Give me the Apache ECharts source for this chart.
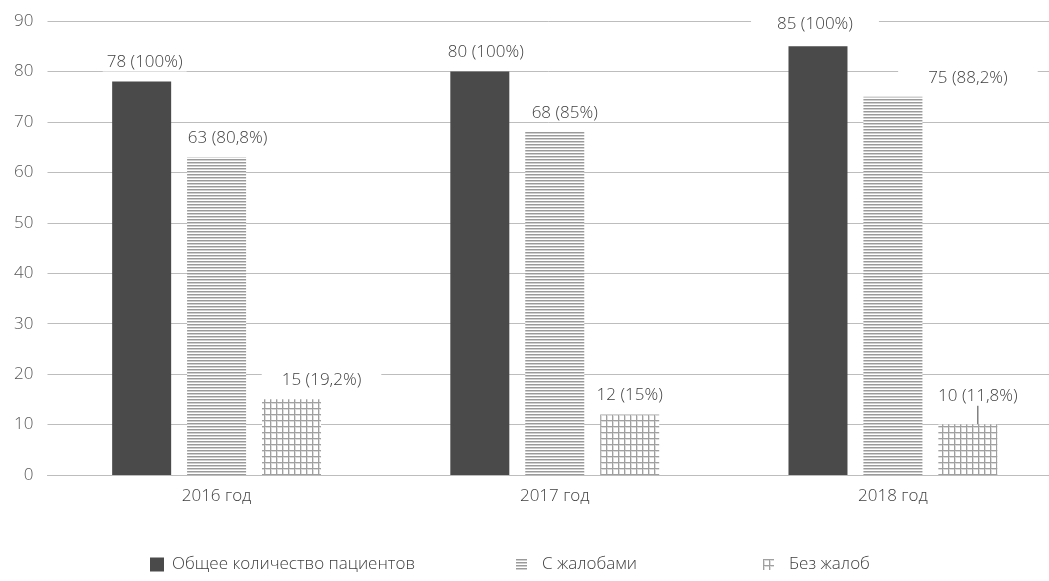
<!DOCTYPE html>
<html>
<head>
<meta charset="utf-8">
<script src="https://cdn.jsdelivr.net/npm/echarts@6/dist/echarts.min.js"></script>
<style>
  html, body { margin: 0; padding: 0; background: #fff; }
  #chart { width: 1049px; height: 581px; }
</style>
</head>
<body>
<div id="chart"></div>
<script>
// Patients by year: total, with complaints, without complaints
const years = ['2016 год', '2017 год', '2018 год'];
const seriesNames = ['Общее количество пациентов', 'С жалобами', 'Без жалоб'];
const totalPatients = [78, 80, 85];
const withComplaints = [63, 68, 75];
const withoutComplaints = [15, 12, 10];
const yTicks = [0, 10, 20, 30, 40, 50, 60, 70, 80, 90];

const FONT = '"Open Sans", "Noto Sans", sans-serif';
const FS = 17;

// Fill patterns drawn on small canvases
function stripePattern() {
  const c = document.createElement('canvas');
  c.width = 4; c.height = 3;
  const g = c.getContext('2d');
  g.fillStyle = '#ffffff'; g.fillRect(0, 0, 4, 3);
  g.fillStyle = '#9a9a9a'; g.fillRect(0, 0, 4, 1);
  g.fillStyle = '#cfcfcf'; g.fillRect(0, 1, 4, 1);
  return { image: c, repeat: 'repeat' };
}
function gridPattern() {
  const c = document.createElement('canvas');
  c.width = 6; c.height = 6;
  const g = c.getContext('2d');
  g.fillStyle = '#ffffff'; g.fillRect(0, 0, 6, 6);
  g.fillStyle = '#dcdcdc'; g.fillRect(1, 0, 1, 6); g.fillRect(0, 1, 6, 1);
  g.fillStyle = '#a0a0a0'; g.fillRect(0, 0, 1, 6); g.fillRect(0, 0, 6, 1);
  return { image: c, repeat: 'repeat' };
}

// Share of the yearly total, written with a decimal comma
function share(v, total) {
  const p = Math.round(v / total * 1000) / 10;
  return String(p).replace('.', ',') + '%';
}

// Per-label nudges [dx, dy] and horizontal padding of the white label box
const labelNudge = [
  [[3, 0], [6, 0], [-3, -3]],
  [[11, 0], [10, 0], [75, 0]],
  [[30, 0], [0, 0], [10, -9]]
];
const labelPad = [
  [4, 4, 26],
  [4, 4, 30],
  [20, 4, 4]
];
// Only the last small bar gets a leader line to its label
const leader = [
  [false, false, false],
  [false, false, false],
  [false, false, true]
];

const values = [totalPatients, withComplaints, withoutComplaints];
const fills = ['#4a4a4a', stripePattern(), gridPattern()];

const series = values.map((arr, s) => ({
  name: seriesNames[s],
  type: 'bar',
  barWidth: 59,
  barGap: '27%',
  itemStyle: { color: fills[s] },
  data: arr.map((v, i) => ({
    value: v,
    label: {
      padding: [0, labelPad[s][i]],
      formatter: v + ' (' + share(v, totalPatients[i]) + ')'
    },
    labelLine: { show: leader[s][i] }
  })),
  label: {
    show: true,
    position: 'top',
    distance: 10,
    color: '#404040',
    fontFamily: FONT,
    fontWeight: 300,
    fontSize: FS,
    lineHeight: 18,
    backgroundColor: '#ffffff'
  },
  labelLine: {
    show: false,
    lineStyle: { color: '#404040', width: 1 }
  },
  labelLayout: function (p) {
    const n = labelNudge[p.seriesIndex][p.dataIndex];
    return { dx: n[0], dy: n[1] };
  }
}));

const legendSpots = [
  { left: 145, size: 14, pad: 3 },
  { left: 511, size: 11, pad: 10 },
  { left: 758, size: 11, pad: 10 }
];

const chart = echarts.init(document.getElementById('chart'), null, { renderer: 'canvas' });
chart.setOption({
  animation: false,
  backgroundColor: '#ffffff',
  grid: { left: 47.5, right: -13, top: 21, bottom: 106, containLabel: false, outerBoundsMode: 'none' },
  xAxis: {
    type: 'category',
    data: years,
    axisTick: { show: false },
    axisLine: { show: true, lineStyle: { color: '#bdbdbd', width: 1 } },
    axisLabel: { color: '#404040', fontFamily: FONT, fontWeight: 300, fontSize: FS, margin: 13 }
  },
  yAxis: {
    type: 'value',
    min: yTicks[0],
    max: yTicks[yTicks.length - 1],
    interval: yTicks[1] - yTicks[0],
    axisLine: { show: false },
    axisTick: { show: false },
    axisLabel: { color: '#595959', fontFamily: FONT, fontWeight: 300, fontSize: FS, margin: 14 },
    splitLine: { lineStyle: { color: '#bdbdbd', width: 1 } }
  },
  legend: legendSpots.map((l, i) => ({
    data: [seriesNames[i]],
    left: l.left,
    top: 551,
    itemWidth: l.size,
    itemHeight: l.size,
    icon: 'rect',
    selectedMode: false,
    textStyle: { color: '#404040', fontFamily: FONT, fontWeight: 300, fontSize: FS, padding: [0, 0, 0, l.pad] }
  })),
  series: series
});
</script>
</body>
</html>
